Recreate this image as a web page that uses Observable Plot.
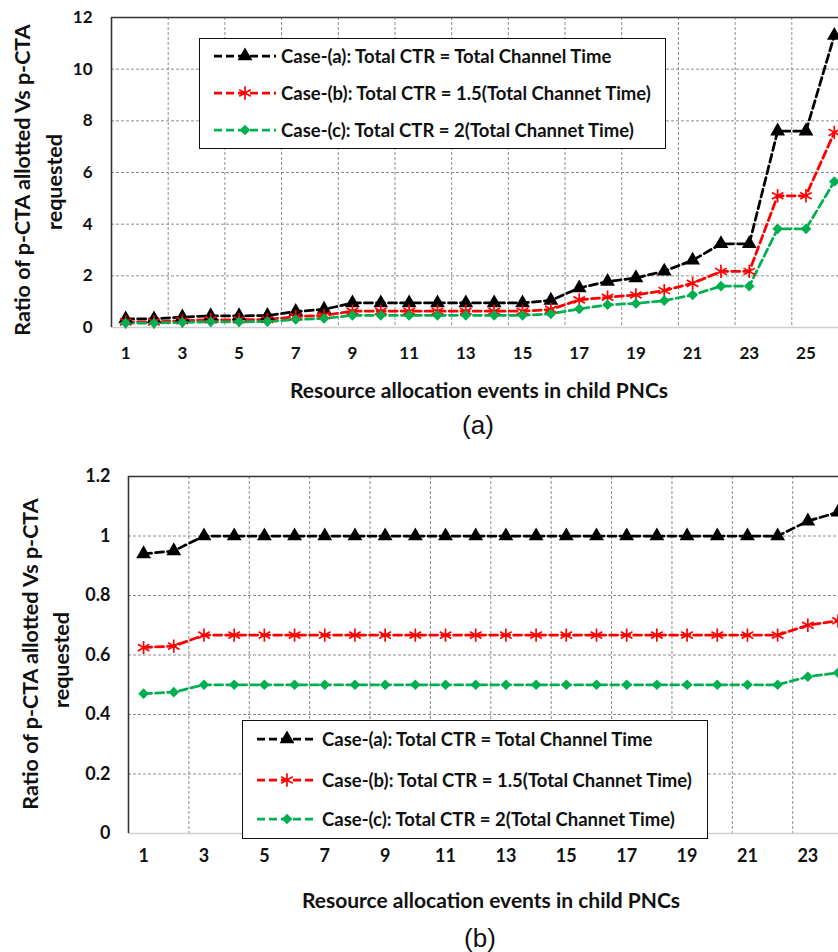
<!DOCTYPE html>
<html>
<head>
<meta charset="utf-8">
<script src="https://cdn.jsdelivr.net/npm/d3@7"></script>
<script src="https://cdn.jsdelivr.net/npm/@observablehq/plot@0.6"></script>
<style>
  html, body { margin: 0; padding: 0; background: #fff; overflow: hidden; }
  #wrap { position: relative; width: 838px; height: 952px; overflow: hidden; background: #fff;
          font-family: Lato, "Open Sans", sans-serif; color: #111; }
  .abs { position: absolute; white-space: nowrap; }
  .ctr { transform: translate(-50%, -50%); }
  .rot { transform: translate(-50%, -50%) rotate(-90deg); }
  .bold { font-weight: bold; }
  .legend { position: absolute; border: 1.5px solid #111; background: #fff; box-sizing: border-box; }
  .row { position: absolute; display: flex; align-items: center; white-space: nowrap; font-weight: bold; }
  .row svg { display: block; margin-right: 3px; }
  .panel { position: absolute; left: 0; width: 1000px; }
  .panel svg { max-width: none !important; }
</style>
</head>
<body>
<div id="wrap"></div>
<script>
// ---------- DATA ----------
const events = d3.range(1, 27);             // resource allocation events 1..26
const xTickLabelsA = [1, 3, 5, 7, 9, 11, 13, 15, 17, 19, 21, 23, 25];
const xTickLabelsB = [1, 3, 5, 7, 9, 11, 13, 15, 17, 19, 21, 23];

const seriesNames = [
  "Case-(a): Total CTR = Total Channel Time",
  "Case-(b): Total CTR = 1.5(Total Channet Time)",
  "Case-(c): Total CTR = 2(Total Channet Time)"
];
const seriesColors = ["#000000", "#ff0000", "#00b050"];
const seriesSymbols = ["triangle", "asterisk", "diamond2"];

// Panel (a)
const caseA_a = [0.33, 0.33, 0.40, 0.45, 0.45, 0.46, 0.62, 0.70, 0.95, 0.95, 0.95, 0.95, 0.95, 0.95, 0.95, 1.05, 1.53, 1.78, 1.92, 2.18, 2.60, 3.24, 3.24, 7.60, 7.60, 11.30];
const caseB_a = [0.22, 0.22, 0.26, 0.30, 0.30, 0.31, 0.42, 0.47, 0.63, 0.63, 0.63, 0.63, 0.63, 0.63, 0.63, 0.70, 1.07, 1.17, 1.26, 1.43, 1.71, 2.17, 2.17, 5.10, 5.10, 7.55];
const caseC_a = [0.17, 0.17, 0.20, 0.22, 0.22, 0.23, 0.31, 0.35, 0.47, 0.47, 0.47, 0.47, 0.47, 0.47, 0.47, 0.53, 0.72, 0.88, 0.93, 1.04, 1.26, 1.60, 1.60, 3.82, 3.82, 5.65];
const yTicksA = [0, 2, 4, 6, 8, 10, 12];

// Panel (b)
const caseA_b = [0.94, 0.95, 1, 1, 1, 1, 1, 1, 1, 1, 1, 1, 1, 1, 1, 1, 1, 1, 1, 1, 1, 1, 1.05, 1.08];
const caseB_b = [0.625, 0.63, 0.667, 0.667, 0.667, 0.667, 0.667, 0.667, 0.667, 0.667, 0.667, 0.667, 0.667, 0.667, 0.667, 0.667, 0.667, 0.667, 0.667, 0.667, 0.667, 0.667, 0.70, 0.715];
const caseC_b = [0.47, 0.475, 0.5, 0.5, 0.5, 0.5, 0.5, 0.5, 0.5, 0.5, 0.5, 0.5, 0.5, 0.5, 0.5, 0.5, 0.5, 0.5, 0.5, 0.5, 0.5, 0.5, 0.527, 0.54];
const yTicksB = [0, 0.2, 0.4, 0.6, 0.8, 1, 1.2];

const yTitle1 = "Ratio of p-CTA allotted Vs p-CTA";
const yTitle2 = "requested";
const xTitle = "Resource allocation events in child PNCs";

// ---------- DRAWING ----------
const wrap = document.getElementById("wrap");
const FONT = "Lato, 'Open Sans', sans-serif";
const DASH = "8,4";
const LW = 2.75;
const GRID = "#8c8c8c";
const xGridLines = d3.range(2.5, 26.5, 2);   // category separators every 2 events
const markerR = s => seriesSymbols[s] === "asterisk" ? 6.3 : (s === 0 ? 5.5 : 4.8);

function tidy(valuesList) {
  const out = [];
  valuesList.forEach((vals, s) => vals.forEach((v, i) => out.push({x: events[i], y: v, s})));
  return out;
}

function makePanel(cfg) {
  const data = tidy(cfg.values);
  const marks = [
    Plot.ruleY(cfg.yTicks, {y: d => d, stroke: GRID, strokeWidth: 1, strokeDasharray: "3,2"}),
    Plot.ruleX(xGridLines, {x: d => d, stroke: GRID, strokeWidth: 1, strokeDasharray: "3,2"}),
    Plot.ruleY([cfg.yTicks[0]], {y: d => d, stroke: "#cfcfcf", strokeWidth: 1.5}),
    Plot.ruleX([0.5], {x: d => d, stroke: "#333", strokeWidth: 1.6}),
    Plot.ruleY([cfg.yTicks[cfg.yTicks.length - 1]], {y: d => d, stroke: "#333", strokeWidth: 1.6})
  ];
  for (let s = 0; s < 3; s++) {
    const sd = data.filter(d => d.s === s);
    marks.push(Plot.line(sd, {x: "x", y: "y", stroke: seriesColors[s], strokeWidth: LW, strokeDasharray: DASH}));
  }
  for (let s = 0; s < 3; s++) {
    const sd = data.filter(d => d.s === s);
    const isAst = seriesSymbols[s] === "asterisk";
    marks.push(Plot.dot(sd, {
      x: "x", y: "y", symbol: () => seriesSymbols[s],
      r: markerR(s),
      fill: isAst ? "none" : seriesColors[s],
      stroke: isAst ? seriesColors[s] : "none",
      strokeWidth: isAst ? 1.7 : 0
    }));
  }
  const chart = Plot.plot({
    width: cfg.width, height: cfg.height,
    marginLeft: cfg.left, marginRight: 0, marginTop: cfg.top, marginBottom: cfg.height - cfg.top - cfg.plotH,
    x: {domain: [0.5, 26.5], ticks: cfg.xTicks, tickSize: 0, tickPadding: cfg.xPad, label: null, tickFormat: d => String(d)},
    y: {domain: [cfg.yTicks[0], cfg.yTicks[cfg.yTicks.length - 1]], ticks: cfg.yTicks, tickSize: 0, tickPadding: cfg.yPad, label: null, tickFormat: d => String(d)},
    symbol: {type: "identity"},
    style: {fontFamily: FONT, fontWeight: "bold", fontSize: cfg.fontSize, color: "#111", background: "transparent", maxWidth: "none", overflow: "visible"},
    marks
  });
  chart.style.maxWidth = "none";
  const div = document.createElement("div");
  div.className = "panel";
  div.style.top = cfg.y0 + "px";
  div.appendChild(chart);
  wrap.appendChild(div);
}

function addText(text, x, y, cls, size, extra) {
  const d = document.createElement("div");
  d.className = "abs " + cls;
  d.style.left = x + "px";
  d.style.top = y + "px";
  d.style.fontSize = size + "px";
  if (extra) Object.assign(d.style, extra);
  d.textContent = text;
  wrap.appendChild(d);
  return d;
}

function addLegend(box, rowsY, sampleX0, sampleW, fontSize) {
  const lg = document.createElement("div");
  lg.className = "legend";
  Object.assign(lg.style, {left: box.x + "px", top: box.y + "px", width: box.w + "px", height: box.h + "px"});
  wrap.appendChild(lg);
  seriesNames.forEach((name, s) => {
    const row = document.createElement("div");
    row.className = "row";
    row.style.left = (sampleX0 - box.x) + "px";
    row.style.top = (rowsY[s] - box.y - 12) + "px";
    row.style.height = "24px";
    row.style.fontSize = fontSize + "px";
    const svg = d3.create("svg").attr("width", sampleW + 2).attr("height", 20);
    svg.append("line").attr("x1", 0).attr("x2", sampleW).attr("y1", 10).attr("y2", 10)
      .attr("stroke", seriesColors[s]).attr("stroke-width", LW).attr("stroke-dasharray", DASH);
    const isAst = seriesSymbols[s] === "asterisk";
    const r = markerR(s);
    const sym = {triangle: d3.symbolTriangle, asterisk: d3.symbolAsterisk, diamond2: d3.symbolDiamond2}[seriesSymbols[s]];
    svg.append("path").attr("transform", `translate(${sampleW / 2},10)`)
      .attr("d", d3.symbol(sym, Math.PI * r * r)())
      .attr("fill", isAst ? "none" : seriesColors[s])
      .attr("stroke", isAst ? seriesColors[s] : "none").attr("stroke-width", 1.7);
    row.appendChild(svg.node());
    const t = document.createElement("span");
    t.textContent = name;
    row.appendChild(t);
    lg.appendChild(row);
  });
}

// Panel (a)
makePanel({
  values: [caseA_a, caseB_a, caseC_a], yTicks: yTicksA, xTicks: xTickLabelsA,
  y0: 0, width: 848, height: 372, left: 111, top: 17, plotH: 310,
  xPad: 19, yPad: 19, fontSize: "17px"
});
addLegend({x: 199, y: 38, w: 467, h: 111}, [55, 92, 129], 213, 62, 18.5);
addText(yTitle1, 22, 180, "rot bold", 21.5);
addText(yTitle2, 54, 182, "rot bold", 21.5);
addText(xTitle, 479, 389, "ctr bold", 21);
addText("(a)", 478, 425, "ctr", 26, {fontFamily: "Arial, 'Liberation Sans', sans-serif"});

// Panel (b)
makePanel({
  values: [caseA_b, caseB_b, caseC_b], yTicks: yTicksB, xTicks: xTickLabelsB,
  y0: 460, width: 913, height: 420, left: 128, top: 16, plotH: 357,
  xPad: 16, yPad: 18, fontSize: "18px"
});
addLegend({x: 242, y: 720, w: 466, h: 119}, [738, 779, 818], 256, 60, 18.5);
addText(yTitle1, 30, 654, "rot bold", 21.5);
addText(yTitle2, 61, 660, "rot bold", 21.5);
addText(xTitle, 491, 899, "ctr bold", 21);
addText("(b)", 480, 938, "ctr", 26, {fontFamily: "Arial, 'Liberation Sans', sans-serif"});
</script>
</body>
</html>
